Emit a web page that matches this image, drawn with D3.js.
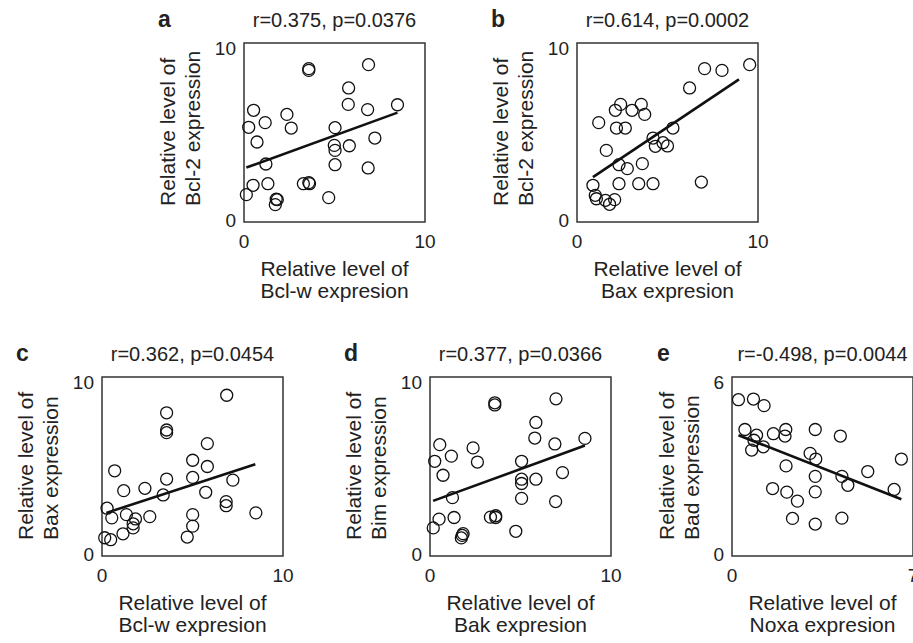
<!DOCTYPE html>
<html>
<head>
<meta charset="utf-8">
<script src="https://cdn.jsdelivr.net/npm/d3@7"></script>
<style>
    body { margin: 0; background: #fff; }
    text { font-family: "Liberation Sans", Arial, Helvetica, sans-serif; fill: #222; }
</style>
</head>
<body>
<div id="chart"></div>
<script>
// panel data
var panelIds = ["a", "b", "c", "d", "e"];
var titles = ["r=0.375, p=0.0376", "r=0.614, p=0.0002", "r=0.362, p=0.0454", "r=0.377, p=0.0366", "r=-0.498, p=0.0044"];
var xNames = ["Bcl-w expresion", "Bax expresion", "Bcl-w expresion", "Bak expresion", "Noxa expresion"];
var yNames = ["Bcl-2 expression", "Bcl-2 expression", "Bax expression", "Bim expression", "Bad expression"];
var xMax = [10, 10, 10, 10, 7];
var yMax = [10, 10, 10, 10, 6];

var aX = [3.58,3.58,6.88,5.78,5.76,6.83,8.48,0.53,2.37,1.17,0.26,2.61,5.03,7.23,0.72,4.99,5.03,5.82,1.21,5.03,6.86,0.50,1.32,3.28,3.58,3.62,0.13,1.78,1.73,1.84,4.68];
var aY = [8.57,8.47,8.79,7.49,6.57,6.28,6.55,6.24,6.01,5.55,5.29,5.25,5.27,4.69,4.47,4.28,4.00,4.26,3.24,3.20,3.02,2.05,2.14,2.14,2.20,2.14,1.53,1.27,0.97,1.25,1.36];

var bX = [9.54,7.05,8.01,6.22,2.41,3.55,2.12,3.04,3.74,1.20,2.18,2.67,5.30,4.20,4.33,4.75,5.00,1.62,2.32,2.78,3.61,0.88,2.32,3.41,4.20,6.87,1.01,1.07,1.57,2.08,1.80];
var bY = [8.79,8.57,8.47,7.49,6.57,6.57,6.24,6.24,6.01,5.55,5.25,5.25,5.25,4.69,4.23,4.43,4.25,4.00,3.20,2.98,3.26,2.05,2.14,2.14,2.14,2.23,1.49,1.30,1.21,1.25,0.99];

var cX = [6.89,3.57,3.57,3.57,5.82,5.01,5.82,0.70,5.01,3.57,7.23,1.20,2.37,3.38,5.73,6.86,6.86,0.28,8.50,0.54,1.35,1.85,1.72,1.72,2.64,5.01,5.01,1.16,0.15,0.48,4.71];
var cY = [8.98,8.00,7.04,6.89,6.28,5.35,5.00,4.76,4.39,4.30,4.24,3.65,3.78,3.41,3.56,3.04,2.81,2.67,2.41,2.13,2.31,2.07,1.80,1.57,2.20,2.31,1.67,1.24,1.02,0.91,1.06];

var dX = [3.58,3.58,6.96,5.85,5.79,6.90,8.56,0.54,2.38,1.18,0.26,2.62,5.06,7.32,0.72,5.06,5.06,5.85,1.24,5.06,6.94,0.50,1.33,3.34,3.63,3.63,0.18,1.83,1.73,1.78,4.74];
var dY = [8.56,8.44,8.78,7.46,6.59,6.26,6.57,6.22,6.04,5.58,5.29,5.25,5.29,4.66,4.51,4.29,4.05,4.29,3.26,3.22,3.04,2.06,2.15,2.17,2.25,2.15,1.57,1.25,1.01,1.15,1.38];

var eX = [0.25,0.83,1.24,0.50,0.95,0.85,0.76,1.21,1.60,2.08,2.05,3.22,4.19,3.02,3.24,6.55,2.09,3.22,4.25,4.48,5.25,1.57,2.12,2.53,3.22,6.27,2.34,3.22,4.25];
var eY = [5.24,5.26,5.04,4.24,4.05,3.88,3.55,3.66,4.10,4.24,4.02,4.24,4.02,3.44,3.25,3.25,3.02,2.67,2.67,2.37,2.83,2.26,2.14,1.84,2.15,2.23,1.26,1.07,1.27];

// fitted lines: [x0, y0, x1, y1]
var fitLines = [
    [0.13, 3.04, 8.48, 6.11],
    [0.88, 2.51, 8.95, 7.97],
    [0.24, 2.41, 8.47, 5.13],
    [0.17, 3.08, 8.56, 6.17],
    [0.25, 4.05, 6.55, 1.90]
];

var xsAll = [aX, bX, cX, dX, eX];
var ysAll = [aY, bY, cY, dY, eY];

// layout
var width = 913, height = 643,
    boxW = 181, boxH = 179;
var boxPos = [[244, 43], [577, 43], [102, 377], [430, 377], [732, 377]];

var svg = d3.select("#chart").append("svg")
    .attr("width", width)
    .attr("height", height);

panelIds.forEach(function(id, i) {
    var left = boxPos[i][0], top = boxPos[i][1];
    var g = svg.append("g").attr("transform", "translate(" + left + "," + top + ")");

    var x = d3.scaleLinear().domain([0, xMax[i]]).range([0, boxW]);
    var y = d3.scaleLinear().domain([0, yMax[i]]).range([boxH, 0]);

    g.append("rect")
        .attr("width", boxW)
        .attr("height", boxH)
        .attr("fill", "none")
        .attr("stroke", "#333")
        .attr("stroke-width", 1.5);

    var pts = d3.zip(xsAll[i], ysAll[i]);
    g.selectAll("circle")
        .data(pts)
        .enter().append("circle")
        .attr("cx", function(d) { return x(d[0]); })
        .attr("cy", function(d) { return y(d[1]); })
        .attr("r", 6)
        .attr("fill", "none")
        .attr("stroke", "#111")
        .attr("stroke-width", 1.3);

    var f = fitLines[i];
    g.append("line")
        .attr("x1", x(f[0])).attr("y1", y(f[1]))
        .attr("x2", x(f[2])).attr("y2", y(f[3]))
        .attr("stroke", "#111")
        .attr("stroke-width", 2.6);

    // ticks: only the two ends
    g.selectAll(".xt")
        .data([0, xMax[i]])
        .enter().append("text")
        .attr("class", "xt")
        .attr("x", function(d) { return x(d); })
        .attr("y", boxH + 26)
        .attr("text-anchor", "middle")
        .style("font-size", "19px")
        .text(function(d) { return d; });

    g.selectAll(".yt")
        .data([0, yMax[i]])
        .enter().append("text")
        .attr("class", "yt")
        .attr("x", -8)
        .attr("y", function(d) { return y(d) + (d === 0 ? 5 : 12); })
        .attr("text-anchor", "end")
        .style("font-size", "19px")
        .text(function(d) { return d; });

    // title and panel letter
    g.append("text")
        .attr("x", boxW / 2)
        .attr("y", -16)
        .attr("text-anchor", "middle")
        .style("font-size", "20px")
        .text(titles[i]);

    var narrow = String(yMax[i]).length < 2 ? 11 : 0;
    g.append("text")
        .attr("x", -86 + narrow)
        .attr("y", -16)
        .style("font-size", "23px")
        .style("font-weight", "bold")
        .text(id);

    // x axis title
    var xl = g.append("text")
        .attr("text-anchor", "middle")
        .style("font-size", "21px");
    xl.append("tspan").attr("x", boxW / 2).attr("y", boxH + 54).text("Relative level of");
    xl.append("tspan").attr("x", boxW / 2).attr("y", boxH + 76).text(xNames[i]);

    // y axis title, rotated
    var yl = g.append("text")
        .attr("transform", "translate(0," + (boxH - 16) + ") rotate(-90)")
        .attr("text-anchor", "start")
        .style("font-size", "21px");
    yl.append("tspan").attr("x", 0).attr("y", -69 + narrow).text("Relative level of");
    yl.append("tspan").attr("x", 0).attr("y", -44 + narrow).text(yNames[i]);
});
</script>
</body>
</html>
